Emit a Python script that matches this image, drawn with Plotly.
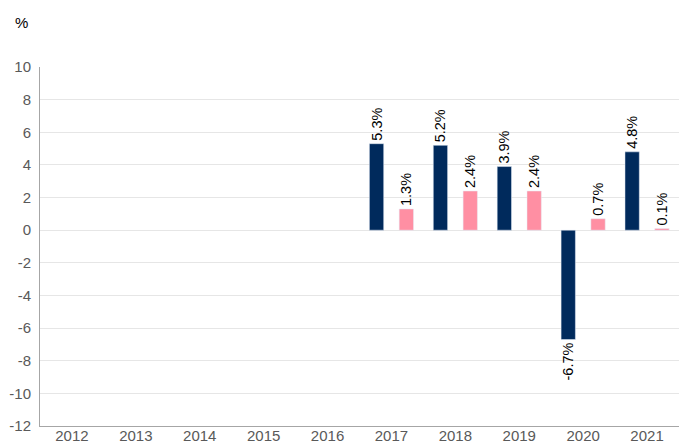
import plotly.graph_objects as go

years = ["2012", "2013", "2014", "2015", "2016", "2017", "2018", "2019", "2020", "2021"]
series_a = [None, None, None, None, None, 5.3, 5.2, 3.9, -6.7, 4.8]
series_b = [None, None, None, None, None, 1.3, 2.4, 2.4, 0.7, 0.1]
y_ticks = [-12, -10, -8, -6, -4, -2, 0, 2, 4, 6, 8, 10]
y_tick_text = ["-12", "-10", "-8", "-6", "-4", "-2", "0", "2", "4", "6", "8", "10"]

def labels(vals):
    return ["" if v is None else f"{v:.1f}%" for v in vals]

fig = go.Figure()
fig.add_trace(go.Bar(x=years, y=series_a, marker_color="#002a5c", text=labels(series_a),
                     textposition="outside", textangle=-90, constraintext="none", cliponaxis=False,
                     textfont=dict(family="Liberation Sans, Arial", size=14.5, color="#000000")))
fig.add_trace(go.Bar(x=years, y=series_b, marker_color="#ff8fa3", text=labels(series_b),
                     textposition="outside", textangle=-90, constraintext="none", cliponaxis=False,
                     textfont=dict(family="Liberation Sans, Arial", size=14.5, color="#000000")))

fig.update_layout(
    width=679, height=444,
    margin=dict(l=40, r=0, t=67, b=18, autoexpand=False),
    plot_bgcolor="white", paper_bgcolor="white",
    barmode="group", bargap=0.067, bargroupgap=0.52,
    showlegend=False,
    font=dict(family="Liberation Sans, Arial", size=15, color="#595959"),
)
fig.update_xaxes(type="category", showline=True, linecolor="#a6a6a6", linewidth=1, automargin=False,
                 ticks="", showgrid=False, ticklabelstandoff=-4, tickfont=dict(size=15, color="#595959"))
fig.update_yaxes(range=[-12, 10], tickvals=y_ticks, ticktext=y_tick_text, showgrid=True, gridcolor="#e6e6e6",
                 zeroline=False, showline=True, linecolor="#a6a6a6", linewidth=1, automargin=False,
                 ticks="", ticklabelstandoff=5, tickfont=dict(size=15, color="#595959"))
fig.add_annotation(text="%", xref="paper", yref="paper", x=0, y=1, xshift=-27, yshift=45,
                   showarrow=False, xanchor="left", yanchor="middle",
                   font=dict(size=15, color="#000000"))
fig.write_html("out.html", config={"displayModeBar": False},
               post_script="document.body.style.margin='0';document.body.style.overflow='hidden';")
